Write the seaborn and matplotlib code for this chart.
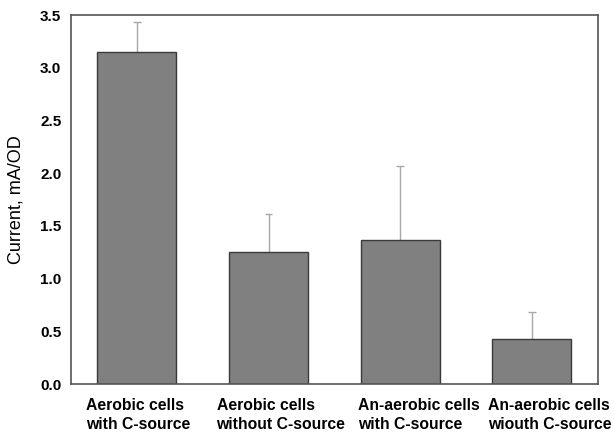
import matplotlib
matplotlib.use("Agg")
import matplotlib.pyplot as plt
import seaborn as sns
import pandas as pd

categories = ["Aerobic cells\nwith C-source", "Aerobic cells\nwithout C-source",
              "An-aerobic cells\nwith C-source", "An-aerobic cells\nwiouth C-source"]
current = [3.15, 1.25, 1.37, 0.43]
errors = [0.28, 0.36, 0.70, 0.25]
yticks = [0.0, 0.5, 1.0, 1.5, 2.0, 2.5, 3.0, 3.5]

# layout: left edge of each x label relative to its bar centre (pixels)
label_shift_px = [-51, -52, -42, -44]

sns.set_style("white")
plt.rcParams["font.family"] = ["Liberation Sans", "DejaVu Sans"]
plt.rcParams["text.color"] = "black"
plt.rcParams["axes.labelcolor"] = "black"
plt.rcParams["xtick.color"] = "black"
plt.rcParams["ytick.color"] = "black"

df = pd.DataFrame({"cat": categories, "val": current})

fig = plt.figure(figsize=(6.14, 4.34), dpi=100)
ax = fig.add_axes([0.1156, 0.1152, 0.858, 0.8502])

sns.barplot(data=df, x="cat", y="val", ax=ax, color="#808080", saturation=1,
            width=0.6, edgecolor="#3a3a3a", linewidth=1.0, errorbar=None, zorder=2)

xpos = list(range(len(categories)))
tops = [v + e for v, e in zip(current, errors)]
ax.vlines(xpos, current, tops, colors="#a8a8a8", linewidth=1.0, zorder=1)
ax.hlines(tops, [x - 0.03 for x in xpos], [x + 0.03 for x in xpos],
          colors="#a8a8a8", linewidth=1.0, zorder=1)

ax.set_xlim(-0.5, 3.5)
ax.set_ylim(0, 3.5)
ax.set_yticks(yticks)
ax.set_yticklabels([f"{t:.1f}" for t in yticks], fontsize=11, fontweight="bold")
ax.set_xticks(xpos)
ax.set_xticklabels([])
for x, lab, dx in zip(xpos, categories, label_shift_px):
    ax.annotate(lab, xy=(x, 0), xycoords=("data", "axes fraction"),
                xytext=(dx * 0.72, -10), textcoords="offset points",
                ha="left", va="top", fontsize=11.3, fontweight="bold",
                multialignment="left", linespacing=1.35, annotation_clip=False)
ax.tick_params(axis="y", length=0, pad=7)
ax.tick_params(axis="x", length=0)
ax.set_xlabel("")
ax.set_ylabel("Current, mA/OD", fontsize=13, labelpad=11)

for s in ax.spines.values():
    s.set_color("#555555")
    s.set_linewidth(1.2)
    s.set_visible(True)

fig.savefig("out.png", dpi=100)
